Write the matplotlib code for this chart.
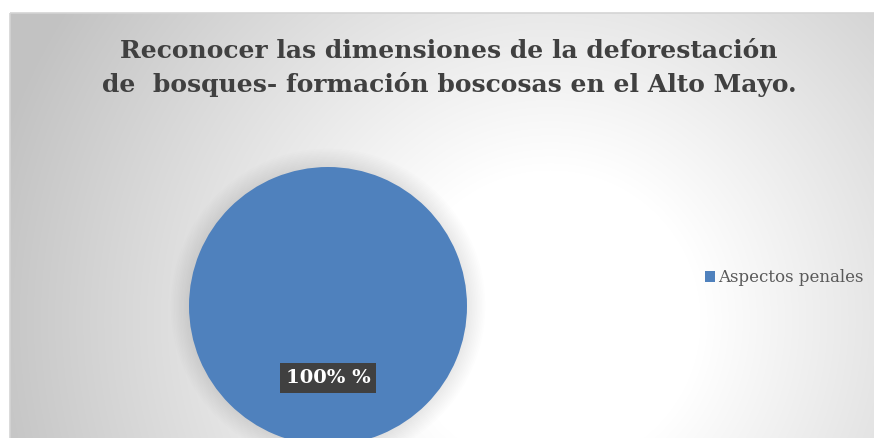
import numpy as np
import matplotlib
matplotlib.use('Agg')
import matplotlib.pyplot as plt
from matplotlib.patches import Circle, Rectangle

# Données du graphique
categorias = ['Aspectos penales']
valores = [100]
titulo = 'Reconocer las dimensiones de la deforestación\nde  bosques- formación boscosas en el Alto Mayo.'

W, H = 874, 438
fig = plt.figure(figsize=(W / 100, H / 100), dpi=100)

# Fond dégradé radial (blanc au centre, gris sur les bords)
yy, xx = np.mgrid[0:H, 0:W]
r = np.sqrt((xx - 550) ** 2 + (yy - 320) ** 2)
t = np.clip((r - 150) / 430, 0, 1)
g = 1 - t * (1 - 0xc2 / 255)
img = np.dstack([g, g, g])
img[:13, :, :] = 1
img[:, :10, :] = 1
ax_bg = fig.add_axes([0, 0, 1, 1])
ax_bg.imshow(img, extent=[0, W, H, 0], aspect='auto', interpolation='bilinear')
ax_bg.add_patch(Rectangle((10, 13), W, H, fill=False, edgecolor='#d4d4d4', lw=1.2))
ax_bg.set_xlim(0, W)
ax_bg.set_ylim(H, 0)
ax_bg.axis('off')

# Camembert
cx, cy, rad = 328, 306, 139
lim = 1.2
size = rad * lim * 2
ax = fig.add_axes([(cx - rad * lim) / W, (H - cy - rad * lim) / H, size / W, size / H])

# ombre douce autour du disque
for i in range(12):
    ax.add_patch(Circle((0, 0), 1 + 0.012 * i, color='black', alpha=0.008, lw=0, zorder=0))

wedges, texts, autotexts = ax.pie(valores, colors=['#4f81bd'], startangle=90,
                                  autopct=lambda p: f'{p:.0f}% %', pctdistance=0.52,
                                  wedgeprops=dict(linewidth=0))
for at in autotexts:
    at.set_color('white')
    at.set_fontsize(14)
    at.set_fontweight('bold')
    at.set_fontfamily('DejaVu Serif')
    at.set_bbox(dict(boxstyle='square,pad=0.3', facecolor='#404040', edgecolor='none'))
ax.set_xlim(-lim, lim)
ax.set_ylim(-lim, lim)

fig.text(449 / W, 1 - 68 / H, titulo, ha='center', va='center', fontsize=18,
         fontweight='bold', family='DejaVu Serif', color='#404040', linespacing=1.45)

fig.legend(wedges, categorias, loc='center left', bbox_to_anchor=(705 / W, 1 - 278 / H),
           frameon=False, handlelength=0.6, handleheight=0.6, handletextpad=0.2,
           borderpad=0, borderaxespad=0,
           prop={'family': 'DejaVu Serif', 'size': 12}, labelcolor='#595959')

fig.savefig('out.png', dpi=100)
